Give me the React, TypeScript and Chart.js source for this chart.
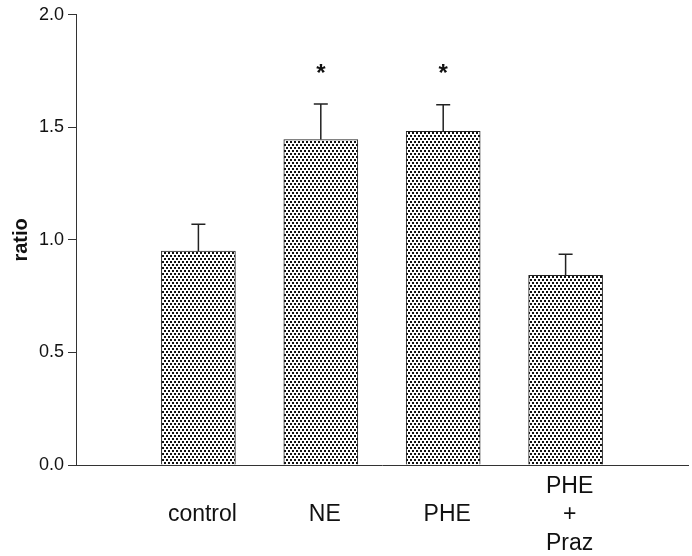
import React, { useEffect, useRef } from "react";
import { Chart, registerables } from "chart.js";

Chart.register(...registerables);

const categories: string[][] = [["", "control", ""], ["", "NE", ""], ["", "PHE", ""], ["PHE", "+", "Praz"]];
const positions = [1, 2, 3, 4];
const means = [0.95, 1.446, 1.482, 0.843];
const errors = [0.12, 0.158, 0.118, 0.093];
const significant = [false, true, true, false];
const yTicks = [0, 0.5, 1.0, 1.5, 2.0];

function makePattern(): CanvasPattern | string {
  const c = document.createElement("canvas");
  c.width = 4;
  c.height = 6;
  const g = c.getContext("2d");
  if (!g) return "#999";
  g.fillStyle = "#ffffff";
  g.fillRect(0, 0, 4, 6);
  g.fillStyle = "#111111";
  g.fillRect(0, 0, 2, 2);
  g.fillRect(2, 3, 2, 2);
  const p = g.createPattern(c, "repeat");
  return p || "#999";
}

const errorBarPlugin = {
  id: "errorBars",
  afterDatasetsDraw(chart: any) {
    const ctx = chart.ctx;
    const xs = chart.scales.x;
    const ys = chart.scales.y;
    ctx.save();
    ctx.strokeStyle = "#222";
    ctx.lineWidth = 1.5;
    means.forEach((m, i) => {
      const x = xs.getPixelForValue(positions[i]);
      const y0 = ys.getPixelForValue(m);
      const y1 = ys.getPixelForValue(m + errors[i]);
      ctx.beginPath();
      ctx.moveTo(x, y0);
      ctx.lineTo(x, y1);
      ctx.moveTo(x - 7, y1);
      ctx.lineTo(x + 7, y1);
      ctx.stroke();
      if (significant[i]) {
        ctx.fillStyle = "#111";
        ctx.font = "bold 24px 'Liberation Sans', Arial, sans-serif";
        ctx.textAlign = "center";
        ctx.textBaseline = "middle";
        ctx.fillText("*", x, y1 - 30);
      }
    });
    ctx.restore();
  },
};

export default function App() {
  const ref = useRef<HTMLCanvasElement | null>(null);
  useEffect(() => {
    document.body.style.margin = "0";
    const canvas = ref.current;
    if (!canvas) return;
    const pattern = makePattern();
    const chart = new Chart(canvas, {
      type: "bar",
      data: {
        datasets: [
          {
            data: means.map((m, i) => ({ x: positions[i], y: m })),
            backgroundColor: pattern as any,
            borderColor: "#222",
            borderWidth: 1,
            barThickness: 74,
          },
        ],
      },
      options: {
        animation: false,
        responsive: false,
        maintainAspectRatio: false,
        layout: { padding: { top: 12, right: 4, left: 0, bottom: 0 } },
        plugins: { legend: { display: false }, tooltip: { enabled: false } },
        scales: {
          x: {
            type: "linear",
            min: 0,
            max: 5,
            offset: false,
            grid: { display: false, drawTicks: false, offset: false },
            border: { display: true, color: "#333", width: 1 },
            afterBuildTicks: (s: any) => {
              s.ticks = positions.map((v) => ({ value: v }));
            },
            afterFit: (s: any) => {
              s.height = 91;
            },
            ticks: {
              padding: 7,
              labelOffset: 4,
              color: "#111",
              font: { family: "'Liberation Sans', Arial, sans-serif", size: 23, lineHeight: 1.24 },
              callback: (v: any) => {
                const i = positions.indexOf(Number(v));
                return i >= 0 ? categories[i] : "";
              },
            },
          },
          y: {
            type: "linear",
            min: 0,
            max: 2,
            afterBuildTicks: (s: any) => {
              s.ticks = yTicks.map((v) => ({ value: v }));
            },
            afterFit: (s: any) => {
              s.width = 76;
            },
            grid: { drawOnChartArea: false, drawTicks: true, tickLength: 8, color: "#333" },
            border: { display: true, color: "#333", width: 1 },
            ticks: {
              padding: 4,
              color: "#111",
              font: { family: "'Liberation Sans', Arial, sans-serif", size: 18 },
              callback: (v: any) => Number(v).toFixed(1),
            },
            title: {
              display: true,
              text: "ratio",
              color: "#111",
              padding: { top: 9, bottom: 0 },
              font: { family: "'Liberation Sans', Arial, sans-serif", size: 20, weight: "bold" },
            },
          },
        },
      },
      plugins: [errorBarPlugin],
    });
    return () => chart.destroy();
  }, []);
  return (
    <div style={{ width: 692, height: 556, background: "#fff" }}>
      <canvas ref={ref} width={692} height={556} style={{ display: "block" }} />
    </div>
  );
}
